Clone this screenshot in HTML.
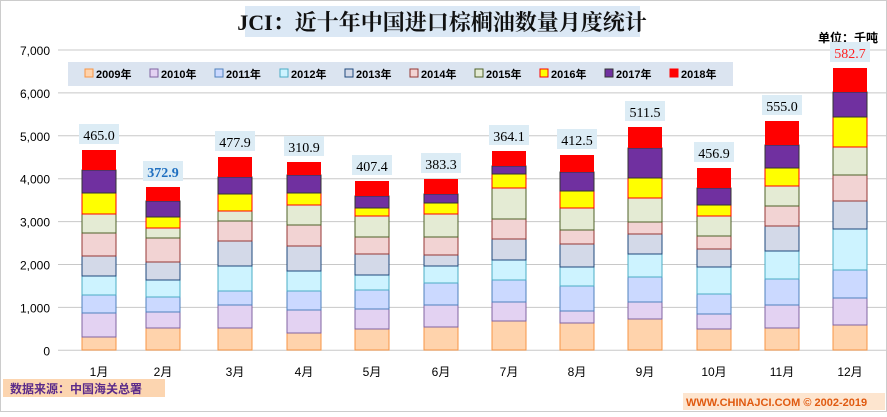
<!DOCTYPE html>
<html><head><meta charset="utf-8">
<style>
body{margin:0;width:887px;height:412px;overflow:hidden;background:#fff;font-family:"Liberation Sans","Noto Sans CJK SC",sans-serif;}
</style></head><body>
<svg id="s" width="887" height="412" xmlns="http://www.w3.org/2000/svg">
<rect x="0.5" y="0.5" width="886" height="411" fill="#fff" stroke="#ccc"/>
<rect x="245" y="6" width="395" height="31" fill="#dbe8f5"/>
<text x="442" y="30" text-anchor="middle" font-family="Liberation Serif,'Noto Serif CJK SC',serif" font-weight="bold" font-size="22" fill="#111">JCI：近十年中国进口棕榈油数量月度统计</text>
<text x="818" y="42" font-family="'Liberation Sans','Noto Sans CJK SC',sans-serif" font-weight="bold" font-size="12" fill="#000">单位：千吨</text>
<g id="grid"></g>
<rect x="68" y="62" width="665" height="24" fill="#dbe4f0"/>
<g id="leg"></g>
<g id="bars"></g>
<rect x="3" y="379" width="162" height="18" fill="#fcd5b0"/>
<text x="10" y="393" font-weight="bold" font-size="12" fill="#5b2b8a">数据来源：中国海关总署</text>
<rect x="683" y="393" width="202" height="17" fill="#fde5cf"/>
<text x="686" y="406" font-weight="bold" font-size="11" fill="#e05a10">WWW.CHINAJCI.COM © 2002-2019</text>
</svg>
<script>
(function(){
var ns="http://www.w3.org/2000/svg";
function el(p,t,a,txt){var e=document.createElementNS(ns,t);for(var k in a)e.setAttribute(k,a[k]);if(txt)e.textContent=txt;document.getElementById(p).appendChild(e);return e;}
var labs=["7,000","6,000","5,000","4,000","3,000","2,000","1,000","0"];
for(var i=0;i<8;i++){var y=50+i*42.9;el('grid','line',{x1:58,x2:886,y1:y,y2:y,stroke:'#c8c8c8','stroke-width':1});el('grid','text',{x:50,y:y+5,'text-anchor':'end','font-size':12,fill:'#000'},labs[i]);}
var fills=["#ffd3ac","#e3d2f2","#cbd9ff","#cdf3ff","#d3d9e8","#f2d3d3","#e4ebd4","#ffff00","#7030a0","#ff0000"];
var strokes=["#f79646","#8064a2","#4f81bd","#4bacc6","#1f497d","#953735","#4f6228","#ff0000","#333","#ff0000"];
var years=["2009年","2010年","2011年","2012年","2013年","2014年","2015年","2016年","2017年","2018年"];
for(var i=0;i<10;i++){var x=85+i*65;el('leg','rect',{x:x,y:69,width:8,height:8,fill:fills[i],stroke:strokes[i]});el('leg','text',{x:x+11,y:78,'font-size':11,'font-weight':'bold',fill:'#000'},years[i]);}
var xs=[82,146,218,287,355,424,492,560,628,697,765,833];
var B=[[337,313,295,276,256,233,214,193,170,150],
[328,312,297,280,262,238,228,217,201,187],
[328,305,291,266,241,221,211,194,177,157],
[333,310,291,271,246,225,205,193,175,162],
[329,309,290,275,254,237,216,208,196,181],
[327,305,283,266,255,237,214,203,194,179],
[321,302,280,260,239,219,188,174,166,151],
[323,311,286,267,244,230,208,191,172,155],
[319,302,277,254,234,222,198,178,148,127],
[329,314,294,267,249,236,216,205,188,168],
[328,305,279,251,226,206,186,168,145,121],
[325,298,270,229,201,175,147,117,92,68]];
var vals=["465.0","372.9","477.9","310.9","407.4","383.3","364.1","412.5","511.5","456.9","555.0","582.7"];
for(var m=0;m<12;m++){var x=xs[m],prev=350;
for(var k=0;k<10;k++){var t=B[m][k];el('bars','rect',{x:x,y:t,width:34,height:prev-t,fill:fills[k],stroke:k==9?'none':strokes[k],'stroke-width':1});prev=t;}
var tp=B[m][9],cx=x+17;
el('bars','rect',{x:cx-20,y:tp-26,width:40,height:20,fill:'#dcecf5'});
var c=m==1?'#1f6fc0':(m==11?'#ff2020':'#000');
el('bars','text',{x:cx,y:tp-10,'text-anchor':'middle','font-family':'Liberation Serif,serif','font-size':14,'font-weight':m==1?'bold':'normal',fill:c},vals[m]);
el('bars','text',{x:cx,y:376,'text-anchor':'middle','font-size':12,fill:'#000'},(m+1)+"月");}
})();
</script>
</body></html>
